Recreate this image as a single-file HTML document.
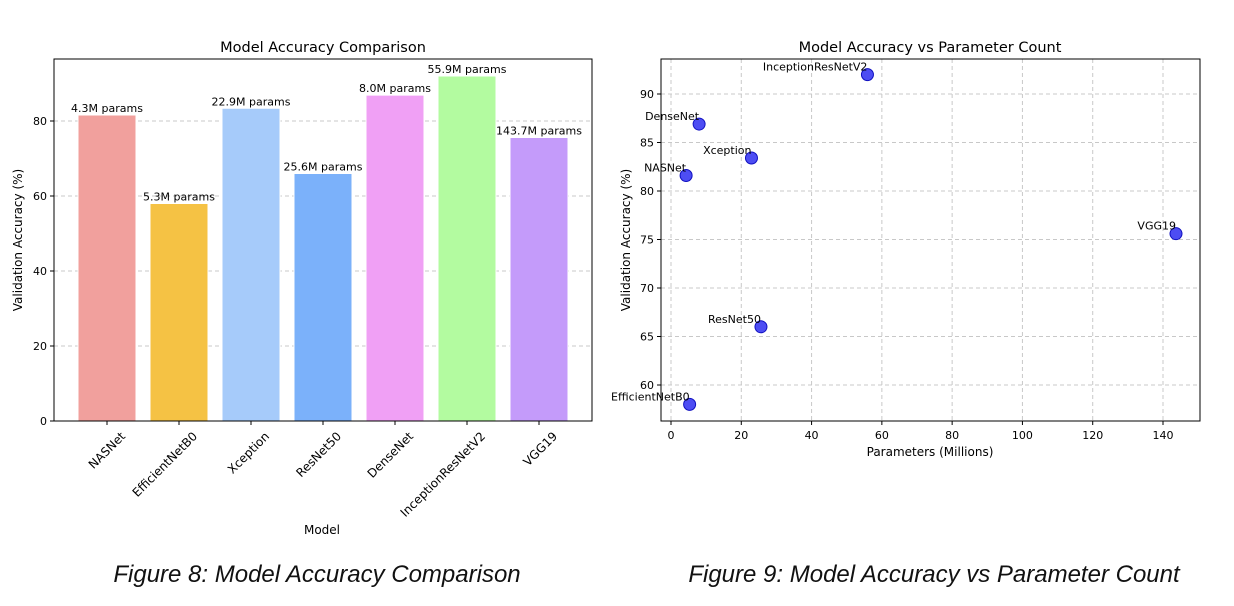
<!DOCTYPE html>
<html><head><meta charset="utf-8"><style>
body{margin:0;background:#fff;width:1234px;height:606px;overflow:hidden;font-family:"DejaVu Sans","Liberation Sans",sans-serif}
svg text{font-family:"DejaVu Sans","Liberation Sans",sans-serif}
.cap{position:absolute;top:561px;font-family:"Liberation Sans",sans-serif;font-style:italic;font-size:24px;color:#111;text-align:center;width:600px}
</style></head><body>
<svg id="chart" width="1234" height="606" style="position:absolute;left:0;top:0"></svg>
<div class="cap" style="left:17px">Figure 8: Model Accuracy Comparison</div>
<div class="cap" style="left:634px">Figure 9: Model Accuracy vs Parameter Count</div>
<script>
const models=["NASNet","EfficientNetB0","Xception","ResNet50","DenseNet","InceptionResNetV2","VGG19"];
const accuracy=[81.6,58.0,83.4,66.0,86.9,92.0,75.6];
const params=[4.3,5.3,22.9,25.6,8.0,55.9,143.7];
const barColors=["#f1a09d","#f5c244","#a6cbfa","#7bb1fa","#f0a0f5","#b3fba0","#c49bfa"];
const leftYTicks=[0,20,40,60,80];
const rightYTicks=[60,65,70,75,80,85,90];
const rightXTicks=[0,20,40,60,80,100,120,140];
const svg=document.getElementById('chart');
const NS="http://www.w3.org/2000/svg";
function mk(tag,attrs,txt){const e=document.createElementNS(NS,tag);for(const k in attrs)e.setAttribute(k,attrs[k]);if(txt!==undefined)e.textContent=txt;svg.appendChild(e);return e;}
// left chart
const L={x0:54,x1:592,y0:59,y1:421};
const ly=v=>421-v*3.75;
const lx=i=>107+i*72;
leftYTicks.forEach(t=>{const y=ly(t);
 if(t>0){const g=mk('line',{x1:L.x0,x2:L.x1,y1:y,y2:y,stroke:'#c8c8c8','stroke-dasharray':'4,3','stroke-width':1});}
 mk('line',{x1:L.x0-4,x2:L.x0,y1:y,y2:y,stroke:'#000'});
 const tx=mk('text',{x:L.x0-7,y:y+4,'text-anchor':'end','font-size':11},t);
});
models.forEach((m,i)=>{const cx=lx(i),y=ly(accuracy[i]);
 const r=mk('rect',{x:cx-29,y:y,width:58,height:421-y,fill:barColors[i],stroke:'#fff','stroke-width':1});
 
 const t=mk('text',{x:cx,y:y-3,'text-anchor':'middle','font-size':11},params[i].toFixed(1)+'M params');
 
 mk('line',{x1:cx,x2:cx,y1:421,y2:425,stroke:'#000'});
 const ax=cx+19, ay=437;
 const xl=mk('text',{x:ax,y:ay,'text-anchor':'end','font-size':12,transform:`rotate(-45 ${ax} ${ay})`},m);
 
});
let f=mk('rect',{x:L.x0,y:L.y0,width:L.x1-L.x0,height:L.y1-L.y0,fill:'none',stroke:'#000','stroke-width':1});
let t1=mk('text',{x:323,y:52,'text-anchor':'middle','font-size':14.5},'Model Accuracy Comparison');
let t2=mk('text',{x:322,y:534,'text-anchor':'middle','font-size':12},'Model');
let t3=mk('text',{x:22,y:240,'text-anchor':'middle','font-size':12,transform:'rotate(-90 22 240)'},'Validation Accuracy (%)');
// right chart
const R={x0:661,x1:1200,y0:59,y1:421};
const rx=v=>671+v*492/140;
const ry=v=>385-(v-60)*9.7;
rightYTicks.forEach(t=>{const y=ry(t);
 const g=mk('line',{x1:R.x0,x2:R.x1,y1:y,y2:y,stroke:'#c8c8c8','stroke-dasharray':'4,3'});
 mk('line',{x1:R.x0-4,x2:R.x0,y1:y,y2:y,stroke:'#000'});
 const tx=mk('text',{x:R.x0-7,y:y+4,'text-anchor':'end','font-size':11},t);
});
rightXTicks.forEach(t=>{const x=rx(t);
 const g=mk('line',{x1:x,x2:x,y1:R.y0,y2:R.y1,stroke:'#c8c8c8','stroke-dasharray':'4,3'});
 mk('line',{x1:x,x2:x,y1:421,y2:425,stroke:'#000'});
 const tx=mk('text',{x:x,y:439,'text-anchor':'middle','font-size':11},t);
});
models.forEach((m,i)=>{const x=rx(params[i]),y=ry(accuracy[i]);
 const c=mk('circle',{cx:x,cy:y,r:6,fill:'#2020f0','fill-opacity':0.8,stroke:'#1010c0'});
 
 const t=mk('text',{x:x,y:y-4,'text-anchor':'end','font-size':11},m);
 
});
f=mk('rect',{x:R.x0,y:R.y0,width:R.x1-R.x0,height:R.y1-R.y0,fill:'none',stroke:'#000'});
t1=mk('text',{x:930,y:52,'text-anchor':'middle','font-size':14.5},'Model Accuracy vs Parameter Count');
t2=mk('text',{x:930,y:456,'text-anchor':'middle','font-size':12},'Parameters (Millions)');
t3=mk('text',{x:630,y:240,'text-anchor':'middle','font-size':12,transform:'rotate(-90 630 240)'},'Validation Accuracy (%)');
</script>
</body></html>
